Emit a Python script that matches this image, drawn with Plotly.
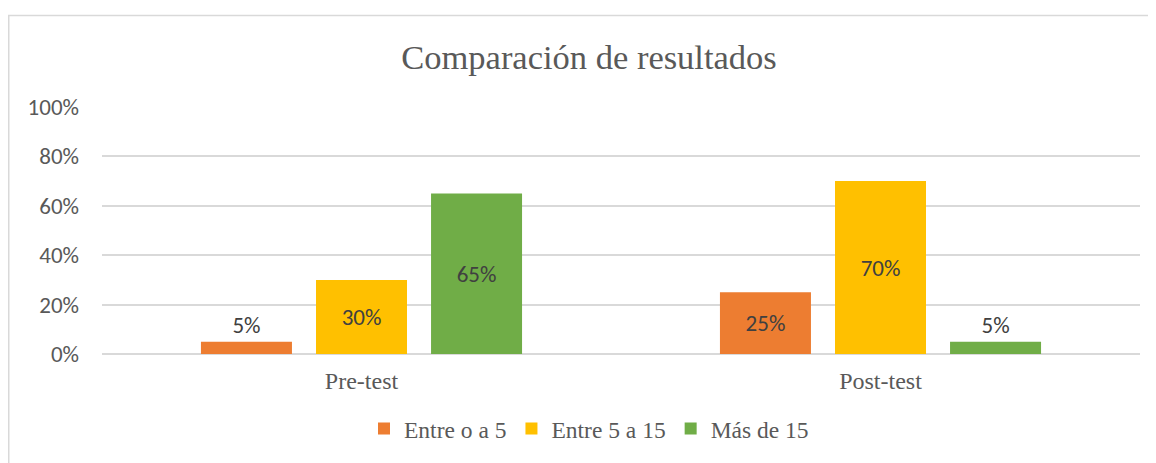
import plotly.graph_objects as go

categories = ["Pre-test", "Post-test"]
series_names = ["Entre o a 5", "Entre 5 a 15", "Más de 15"]
series_values = [
    [5, 25],
    [30, 70],
    [65, 5],
]
colors = ["#ED7D31", "#FFC000", "#70AD47"]
y_ticks = [0, 20, 40, 60, 80, 100]
y_tick_labels = ["0%", "20%", "40%", "60%", "80%", "100%"]

W, H = 1148, 455
L, R, T, B = 94, 16, 99, 105
SANS = "Carlito, Liberation Sans, sans-serif"
SERIF = "Liberation Serif, Times New Roman, serif"

fig = go.Figure()
for name, vals, col in zip(series_names, series_values, colors):
    fig.add_trace(go.Bar(
        x=categories, y=vals, name=name,
        marker=dict(color=col, line=dict(width=0)),
        text=[f"{v}%" for v in vals],
        textposition=["outside" if v < 10 else "inside" for v in vals],
        insidetextanchor="middle",
        textangle=0,
        textfont=dict(family=SANS, size=23, color="#404040"),
        cliponaxis=False,
        hoverinfo="skip",
    ))

pw = W - L - R
ph = H - T - B

fig.update_layout(
    width=W, height=H,
    margin=dict(l=L, r=R, t=T, b=B),
    paper_bgcolor="white", plot_bgcolor="white",
    barmode="group", bargap=0.335, bargroupgap=0.209,
    title=dict(text="Comparación de resultados", x=(589 - 8) / W, xanchor="center",
               y=1 - 49 / H, yanchor="middle",
               font=dict(family=SERIF, size=34.5, color="#595959")),
    showlegend=True,
    legend=dict(orientation="h", x=(589 - 8 - L) / pw, xanchor="center",
                y=-(434 - 8 - (H - B)) / ph, yanchor="middle",
                font=dict(family=SERIF, size=23.5, color="#595959"),
                itemwidth=30, traceorder="normal"),
    xaxis=dict(showgrid=False, showline=False, ticks="", ticklabelstandoff=10,
               tickfont=dict(family=SERIF, size=24, color="#595959")),
    yaxis=dict(range=[0, 100], tickvals=y_ticks, ticktext=y_tick_labels,
               showgrid=True, gridcolor="#d9d9d9", gridwidth=1.5,
               zeroline=True, zerolinecolor="#d9d9d9", zerolinewidth=1.5,
               showline=False, ticks="", ticklabelstandoff=22,
               tickfont=dict(family=SANS, size=23, color="#595959")),
)

fig.add_shape(type="rect", xref="paper", yref="paper",
              x0=(0.75 - L) / pw, x1=(W + 20 - L) / pw,
              y0=-(H + 20 - (H - B)) / ph, y1=(H - B - 6) / ph,
              line=dict(color="#d9d9d9", width=1.5), fillcolor="rgba(0,0,0,0)", layer="below")

fig.write_html("out.html")
